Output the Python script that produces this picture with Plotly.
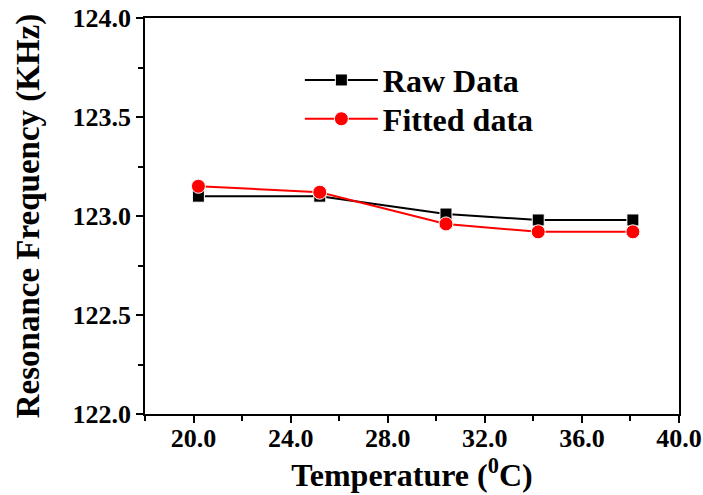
import plotly.graph_objects as go

temperature = [20.2, 25.2, 30.4, 34.2, 38.1]
raw_data = [123.10, 123.10, 123.01, 122.98, 122.98]
fitted_data = [123.15, 123.12, 122.96, 122.92, 122.92]

font_family = "Liberation Serif"

fig = go.Figure()
fig.add_trace(go.Scatter(
    x=temperature, y=raw_data, mode="lines+markers", name="<b>Raw Data</b>",
    line=dict(color="black", width=2),
    marker=dict(symbol="square", size=12, color="black", line=dict(color="white", width=1)),
    legend="legend",
))
fig.add_trace(go.Scatter(
    x=temperature, y=fitted_data, mode="lines+markers", name="<b>Fitted data</b>",
    line=dict(color="red", width=2),
    marker=dict(symbol="circle", size=14, color="red", line=dict(color="white", width=1)),
    legend="legend2",
))

axis_common = dict(
    showline=True, linecolor="black", linewidth=1.5, mirror=True,
    ticks="outside", ticklen=7, tickwidth=1.5, tickcolor="black",
    showgrid=False, zeroline=False, automargin=False,
    tickfont=dict(family=font_family, size=26, color="black", weight="bold"),
)

fig.update_xaxes(
    range=[18, 40], dtick=4, tick0=20, tickformat=".1f",
    ticklabelstandoff=-7,
    minor=dict(dtick=2, ticks="outside", ticklen=5, tickwidth=1.5, tickcolor="black"),
    title=dict(text="<b>Temperature (<sup>0</sup>C)</b>",
               font=dict(family=font_family, size=32, color="black"), standoff=4),
    **axis_common,
)
fig.update_yaxes(
    range=[122, 124], dtick=0.5, tickformat=".1f",
    minor=dict(dtick=0.25, ticks="outside", ticklen=5, tickwidth=1.5, tickcolor="black"),
    title=dict(text="<b>Resonance Frequency (KHz)</b>",
               font=dict(family=font_family, size=33, color="black"), standoff=23),
    **axis_common,
)

legend_common = dict(
    x=0.29, xanchor="left", yanchor="middle",
    font=dict(family=font_family, size=32, color="black"),
    bgcolor="rgba(0,0,0,0)", itemwidth=73, tracegroupgap=0,
)

fig.update_layout(
    width=703, height=495,
    margin=dict(l=145, r=24, t=18, b=81),
    plot_bgcolor="white", paper_bgcolor="white",
    showlegend=True,
    legend=dict(y=0.843, **legend_common),
    legend2=dict(y=0.745, **legend_common),
)

fig.write_html("out.html")
